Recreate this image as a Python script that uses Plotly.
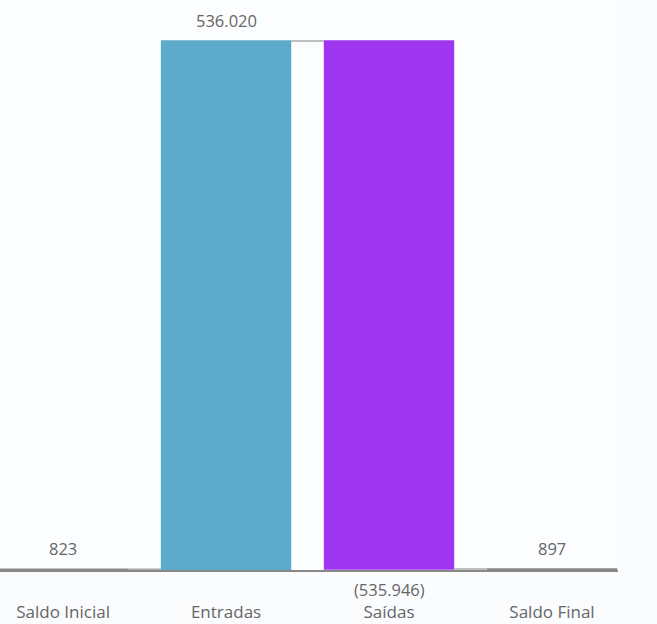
import plotly.graph_objects as go

categories = ["Saldo Inicial", "Entradas", "Saídas", "Saldo Final"]
values = [823, 536020, -535946, 897]
measures = ["absolute", "relative", "relative", "total"]

def fmt(v):
    s = f"{abs(v):,}".replace(",", ".")
    return f"({s})" if v < 0 else s

# cumulative positions for labels
labels_y = []
shifts = []
running = 0
for v, m in zip(values, measures):
    if m == "absolute":
        running = v
        labels_y.append(running); shifts.append(21)
    elif m == "total":
        labels_y.append(running); shifts.append(21)
    else:
        running += v
        if v >= 0:
            labels_y.append(running); shifts.append(21)
        else:
            labels_y.append(running); shifts.append(-20)

fig = go.Figure()
fig.add_trace(go.Waterfall(
    x=categories, y=values, measure=measures,
    textposition="none",
    increasing=dict(marker=dict(color="#5DABCB")),
    decreasing=dict(marker=dict(color="#9D36EE")),
    totals=dict(marker=dict(color="#888888")),
    connector=dict(line=dict(color="#a8a8a8", width=1.5)),
    width=[0.8, 0.8, 0.8, 0.8],
    hoverinfo="skip",
))

for c, v, y, s in zip(categories, values, labels_y, shifts):
    fig.add_annotation(x=c, y=y, text=fmt(v), showarrow=False, yshift=s,
                       font=dict(size=16.5, color="#666666", family="Open Sans"))

fig.update_layout(
    width=657, height=624,
    margin=dict(l=0, r=39, t=0, b=54),
    paper_bgcolor="#fbfcfe", plot_bgcolor="#fcfdff",
    showlegend=False,
    xaxis=dict(range=[-0.387, 3.405], showgrid=False, zeroline=False,
               showline=True, linecolor="#888888", linewidth=2,
               ticks="", ticklabelstandoff=26, automargin=False,
               tickfont=dict(size=17, color="#666666", family="Open Sans")),
    yaxis=dict(range=[0, 578451], visible=False, showgrid=False,
               zeroline=False, automargin=False),
)
fig.write_html("out.html", config={"displayModeBar": False},
               post_script="document.body.style.margin='0';document.body.style.background='#fbfcfe';")
